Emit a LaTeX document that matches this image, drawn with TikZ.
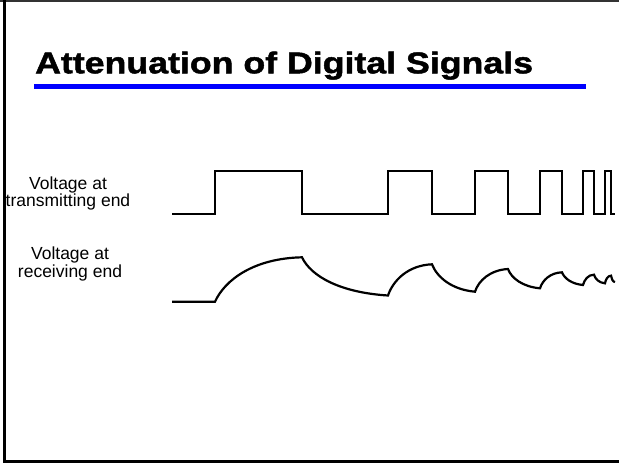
\documentclass[tikz,border=0pt]{standalone}
\usepackage{fontspec}
\setmainfont{Liberation Sans}
\newfontfamily\titlefont[FakeBold=1.6, FakeStretch=1.19]{Liberation Sans Bold}
\usetikzlibrary{positioning}
\tikzset{
  wave/.style={line width=2.2pt, line join=miter},
  siglabel/.style={align=center, inner sep=0pt,
    font=\fontsize{17.5}{17.5}\selectfont},
}

\begin{document}
\begin{tikzpicture}[x=1pt, y=-1pt]
  \useasboundingbox (0,0) rectangle (619,463);
  % Slide frame
  \draw[line width=1.5pt, black!80] (0,0.75) -- (619,0.75);
  \draw[line width=3pt] (4.8,0) -- (4.8,461) -- (619,461);
  % Title
  \node[anchor=base west, inner sep=0pt,
    font=\titlefont\fontsize{30}{30}\selectfont] (title) at (35,73.3)
    {Attenuation of Digital Signals};
  \draw[line width=5pt, blue] (34,86) -- (585.7,86);
  % Labels
  \node[siglabel] (txlabel) at (68,193.4) {Voltage at\\transmitting end};
  \node[siglabel] (rxlabel) at (70,264.1) {Voltage at\\receiving end};
  % Transmitted square wave
  \draw[wave] (172,214.3) -- (215,214.3) -- (215,171) -- (302,171)
    -- (302,214.3) -- (388,214.3) -- (388,171) -- (432,171)
    -- (432,214.3) -- (475,214.3) -- (475,171) -- (508,171)
    -- (508,214.3) -- (540,214.3) -- (540,171) -- (562,171)
    -- (562,214.3) -- (583,214.3) -- (583,171) -- (594,171)
    -- (594,214.3) -- (605,214.3) -- (605,171) -- (611,171)
    -- (611,214.3) -- (615,214.3);
  % Received (attenuated) wave
  \draw[wave] (172,301.7) -- (215,301.7)
    .. controls +(10,-22) and +(-48,1) .. (302,257.3)
    .. controls +(9,19) and +(-48,-3) .. (388,295.5)
    .. controls +(5,-15) and +(-24,1) .. (432,264.3)
    .. controls +(5,13) and +(-23,-2) .. (475,291.7)
    .. controls +(3.5,-11) and +(-18,1) .. (508,269)
    .. controls +(3.5,9.5) and +(-17,-1.5) .. (540,288.3)
    .. controls +(2.5,-8) and +(-12,0.5) .. (562,272.3)
    .. controls +(2.5,6.4) and +(-11,-1) .. (583,285)
    .. controls +(1.3,-5) and +(-6,0) .. (594,274.7)
    .. controls +(1.3,4.3) and +(-6,-0.5) .. (605,283.3)
    .. controls +(0.7,-3.8) and +(-3.4,0) .. (611,275.7)
    .. controls +(0.5,3) and +(-2.2,0) .. (615,282);
\end{tikzpicture}
\end{document}
